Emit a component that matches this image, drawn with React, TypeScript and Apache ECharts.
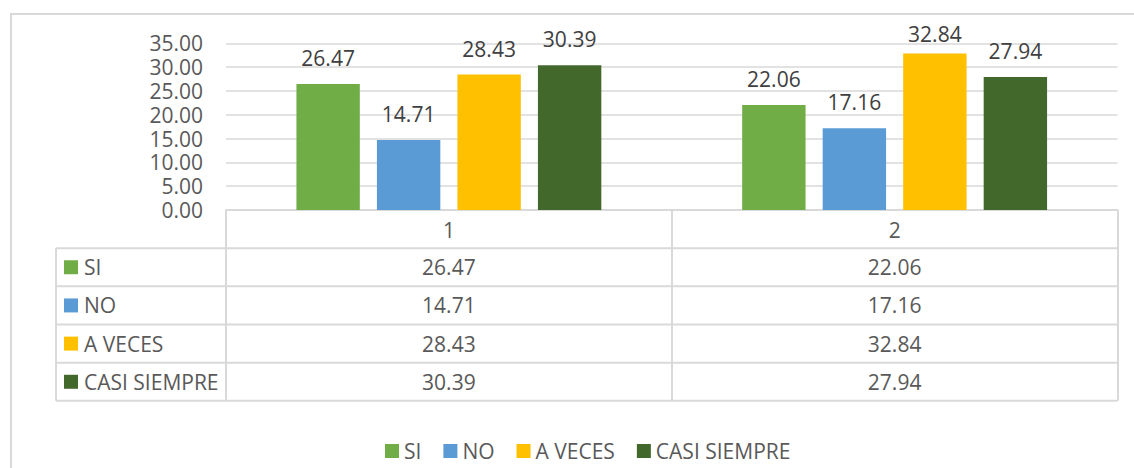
import React, { useEffect, useRef } from "react";
import * as echarts from "echarts";

const categories = ["1", "2"];
const seriesNames = ["SI", "NO", "A VECES", "CASI SIEMPRE"];
const siValues = [26.47, 22.06];
const noValues = [14.71, 17.16];
const aVecesValues = [28.43, 32.84];
const casiSiempreValues = [30.39, 27.94];
const seriesColors = ["#70AD47", "#5B9BD5", "#FFC000", "#43682B"];
const yMin = 0;
const yMax = 35;
const yInterval = 5;

const FONT = '"Open Sans", "Liberation Sans", sans-serif';
const FS = 21;
const AXIS_COLOR = "#595959";
const LABEL_COLOR = "#404040";
const LINE_COLOR = "#D9D9D9";

export default function App() {
  const ref = useRef<HTMLDivElement>(null);

  useEffect(() => {
    document.body.style.margin = "0";
    if (!ref.current) return;
    const chart = echarts.init(ref.current, undefined, { renderer: "svg" });

    const gridLeft = 226;
    const gridRight = 1117.5;
    const gridTop = 43.3;
    const gridBottom = 210;
    const rowH = 38.17;
    const tableLeft = 56;
    const allValues = [siValues, noValues, aVecesValues, casiSiempreValues];

    const series = allValues.map((vals, i) => ({
      name: seriesNames[i],
      type: "bar",
      data: vals.map((v, j) =>
        i === 2 && j === 1 ? { value: v, label: { distance: 10 } } : v
      ),
      itemStyle: { color: seriesColors[i] },
      barGap: "27%",
      barCategoryGap: "31.6%",
      label: {
        show: true,
        position: "top",
        distance: 16,
        color: LABEL_COLOR,
        fontSize: FS,
        lineHeight: 20,
        fontFamily: FONT,
        formatter: (p: any) => Number(p.value).toFixed(2),
      },
    }));

    const option: any = {
      animation: false,
      backgroundColor: "#ffffff",
      textStyle: { fontFamily: FONT },
      grid: {
        left: gridLeft,
        top: gridTop,
        width: gridRight - gridLeft,
        height: gridBottom - gridTop,
        containLabel: false,
      },
      legend: {
        data: seriesNames,
        left: 385,
        top: 440,
        icon: "rect",
        itemWidth: 14,
        itemHeight: 14,
        itemGap: 22,
        padding: 0,
        textStyle: {
          color: AXIS_COLOR,
          fontSize: FS,
          lineHeight: 22,
          fontFamily: FONT,
        },
        selectedMode: false,
      },
      xAxis: {
        type: "category",
        data: categories,
        axisLine: { show: true, lineStyle: { color: LINE_COLOR, width: 2 } },
        axisTick: {
          show: true,
          length: rowH * 5,
          lineStyle: { color: LINE_COLOR, width: 2 },
        },
        axisLabel: {
          color: AXIS_COLOR,
          fontSize: FS,
          lineHeight: 20,
          fontFamily: FONT,
          margin: 10,
        },
      },
      yAxis: {
        type: "value",
        min: yMin,
        max: yMax,
        interval: yInterval,
        axisLine: { show: false },
        axisTick: { show: false },
        splitLine: { lineStyle: { color: LINE_COLOR, width: 1.5 } },
        axisLabel: {
          color: AXIS_COLOR,
          fontSize: FS,
          lineHeight: 20,
          fontFamily: FONT,
          margin: 23,
          formatter: (v: number) => v.toFixed(2),
        },
      },
      series,
    };

    chart.setOption(option);

    const colX = categories.map(
      (_, j) => chart.convertToPixel({ xAxisIndex: 0 }, j) as number
    );

    const graphics: any[] = [];
    graphics.push({
      type: "rect",
      shape: { x: 11, y: 14, width: 1300, height: 600 },
      style: { fill: "none", stroke: LINE_COLOR, lineWidth: 2 },
      silent: true,
      z: 0,
    });
    for (let r = 1; r <= 5; r++) {
      const y = gridBottom + rowH * r;
      graphics.push({
        type: "line",
        shape: { x1: tableLeft, y1: y, x2: gridRight, y2: y },
        style: { stroke: LINE_COLOR, lineWidth: 2 },
        silent: true,
      });
    }
    graphics.push({
      type: "line",
      shape: {
        x1: tableLeft,
        y1: gridBottom + rowH,
        x2: tableLeft,
        y2: gridBottom + rowH * 5,
      },
      style: { stroke: LINE_COLOR, lineWidth: 2 },
      silent: true,
    });
    seriesNames.forEach((name, i) => {
      const cy = gridBottom + rowH * (i + 1) + rowH / 2;
      graphics.push({
        type: "rect",
        shape: { x: 64, y: cy - 7, width: 14, height: 14 },
        style: { fill: seriesColors[i] },
        silent: true,
      });
      graphics.push({
        type: "text",
        x: 84,
        y: cy,
        style: {
          text: name,
          fill: AXIS_COLOR,
          fontSize: FS,
          fontFamily: FONT,
          align: "left",
          verticalAlign: "middle",
          textAlign: "left",
          textVerticalAlign: "middle",
        },
        silent: true,
      });
      allValues[i].forEach((v, j) => {
        graphics.push({
          type: "text",
          x: colX[j],
          y: cy,
          style: {
            text: v.toFixed(2),
            fill: AXIS_COLOR,
            fontSize: FS,
            fontFamily: FONT,
            align: "center",
            verticalAlign: "middle",
            textAlign: "center",
            textVerticalAlign: "middle",
          },
          silent: true,
        });
      });
    });

    chart.setOption({ graphic: graphics });

    return () => {
      chart.dispose();
    };
  }, []);

  return <div ref={ref} style={{ width: 1134, height: 468 }} />;
}
